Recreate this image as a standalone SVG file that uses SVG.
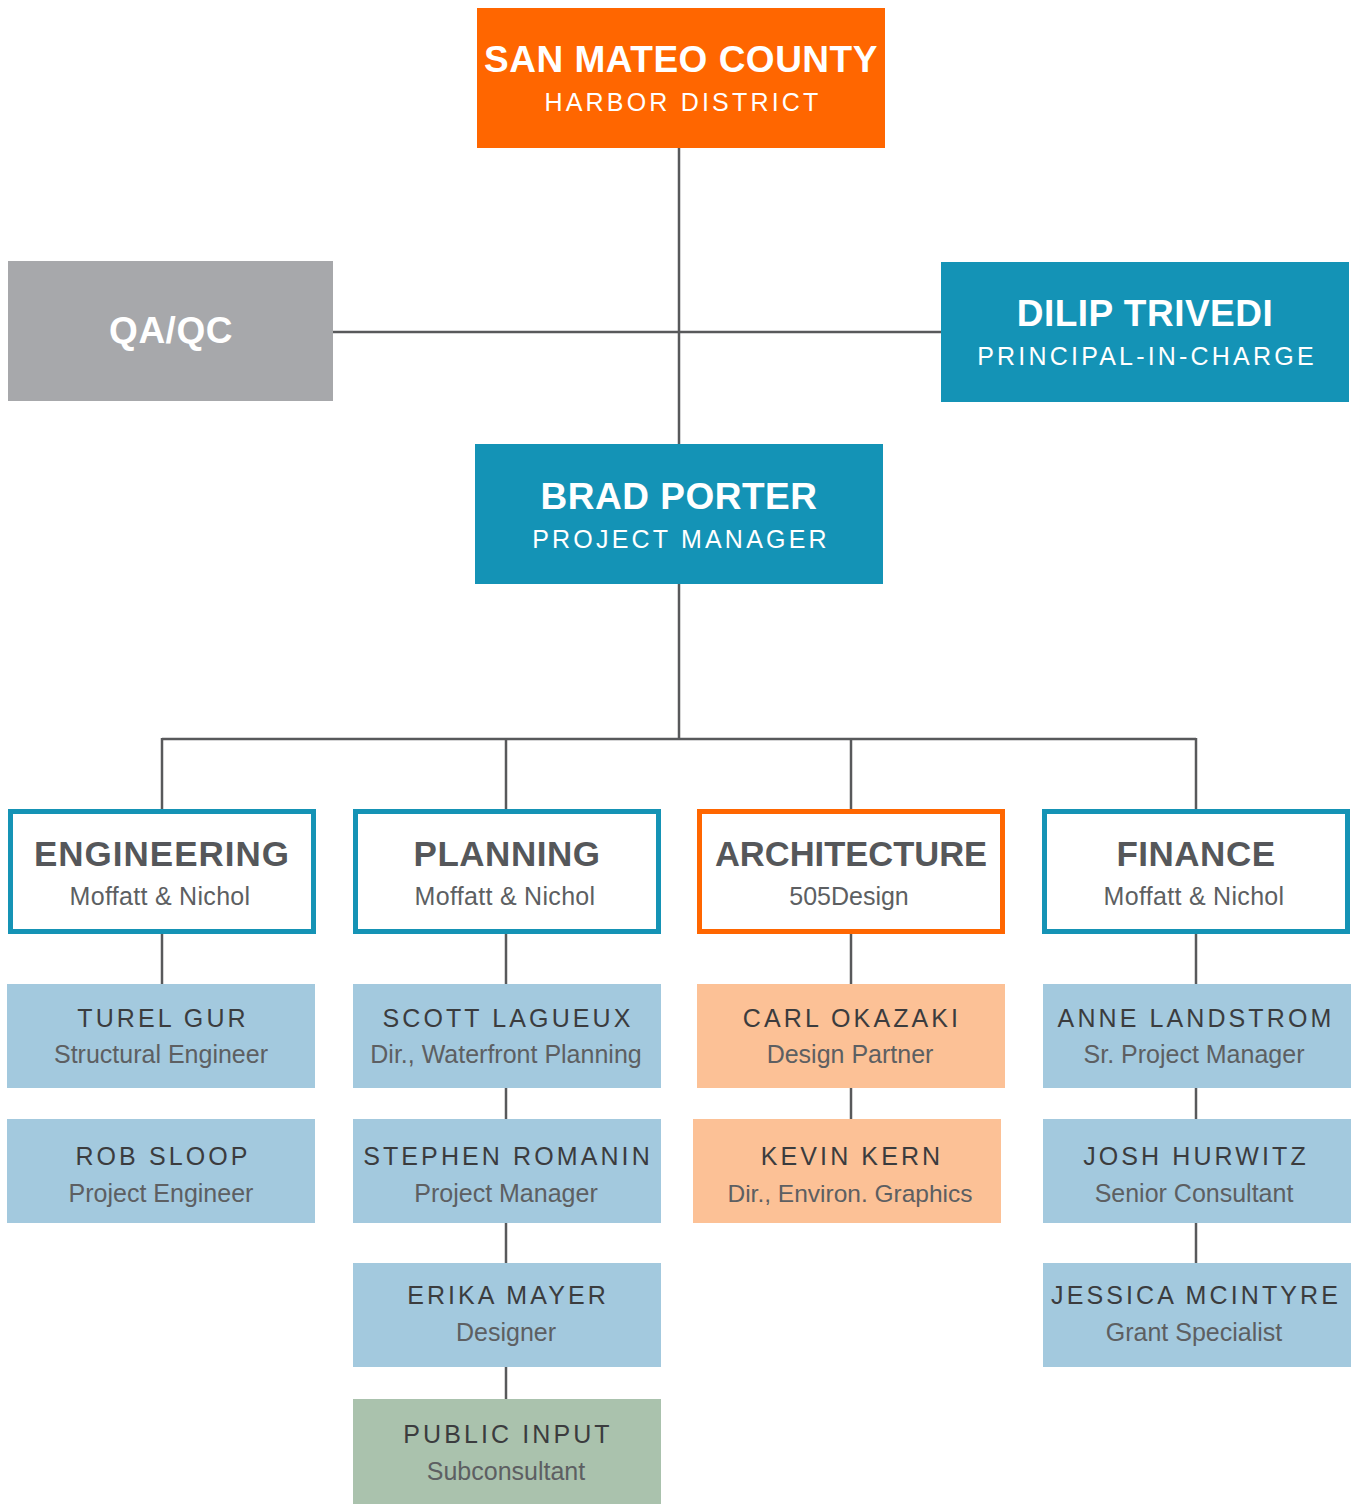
<svg xmlns="http://www.w3.org/2000/svg" width="1355" height="1510" viewBox="0 0 1355 1510">
<style>
.t{font-family:"Liberation Sans",Arial,sans-serif;text-anchor:middle}
.hb{font-weight:bold;font-size:37px;fill:#fff;letter-spacing:0.5px}
.hs{font-size:25px;fill:#fff;letter-spacing:3.2px}
.db{font-weight:bold;font-size:35px;fill:#55575a;letter-spacing:0.5px}
.ds{font-size:25px;fill:#5d5f62}
.pn{font-size:25px;fill:#3b3c3e;letter-spacing:3.1px}
.ps{font-size:25px;fill:#5d5f62}
.blue{fill:#a3c9de}
.peach{fill:#fcc196}
.sage{fill:#aac2ad}
.dept{fill:#fff;stroke-width:5}
.conn line{stroke:#58595b;stroke-width:2.5}
</style>
<g class="conn" id="connectors">
<line x1="679" y1="148" x2="679" y2="444"/>
<line x1="333" y1="332" x2="941" y2="332"/>
<line x1="679" y1="584" x2="679" y2="739"/>
<line x1="162" y1="739" x2="1196" y2="739"/>
<line x1="162" y1="738" x2="162" y2="810"/>
<line x1="506" y1="738" x2="506" y2="810"/>
<line x1="851" y1="738" x2="851" y2="810"/>
<line x1="1196" y1="738" x2="1196" y2="810"/>
<line x1="162" y1="934" x2="162" y2="984"/>
<line x1="506" y1="934" x2="506" y2="984"/>
<line x1="851" y1="934" x2="851" y2="984"/>
<line x1="1196" y1="934" x2="1196" y2="984"/>
<line x1="506" y1="1088" x2="506" y2="1119"/>
<line x1="851" y1="1088" x2="851" y2="1119"/>
<line x1="1196" y1="1088" x2="1196" y2="1119"/>
<line x1="506" y1="1223" x2="506" y2="1263"/>
<line x1="1196" y1="1223" x2="1196" y2="1263"/>
<line x1="506" y1="1367" x2="506" y2="1399"/>
</g>
<g id="san-mateo">
<rect x="477" y="8" width="408" height="140" fill="#ff6600"/>
<text class="t hb" x="681" y="72">SAN MATEO COUNTY</text>
<text class="t hs" x="683" y="111">HARBOR DISTRICT</text>
</g>
<g id="qaqc">
<rect x="8" y="261" width="325" height="140" fill="#a7a8ab"/>
<text class="t hb" x="171" y="343">QA/QC</text>
</g>
<g id="dilip">
<rect x="941" y="262" width="408" height="140" fill="#1493b6"/>
<text class="t hb" x="1145" y="326">DILIP TRIVEDI</text>
<text class="t hs" x="1147" y="365">PRINCIPAL-IN-CHARGE</text>
</g>
<g id="brad">
<rect x="475" y="444" width="408" height="140" fill="#1493b6"/>
<text class="t hb" x="679" y="509">BRAD PORTER</text>
<text class="t hs" x="681" y="548">PROJECT MANAGER</text>
</g>
<g id="engineering">
<rect class="dept" x="10.5" y="811.5" width="303" height="120" stroke="#1593b5"/>
<text class="t db" x="162" y="866" style="letter-spacing:1px">ENGINEERING</text>
<text class="t ds" x="160" y="905" style="letter-spacing:0.3px">Moffatt &amp; Nichol</text>
</g>
<g id="planning">
<rect class="dept" x="355.5" y="811.5" width="303" height="120" stroke="#1593b5"/>
<text class="t db" x="507" y="866">PLANNING</text>
<text class="t ds" x="505" y="905" style="letter-spacing:0.3px">Moffatt &amp; Nichol</text>
</g>
<g id="architecture">
<rect class="dept" x="699.5" y="811.5" width="303" height="120" stroke="#ff6600"/>
<text class="t db" x="851" y="866" style="letter-spacing:0px;font-size:34.5px">ARCHITECTURE</text>
<text class="t ds" x="849" y="905">505Design</text>
</g>
<g id="finance">
<rect class="dept" x="1044.5" y="811.5" width="303" height="120" stroke="#1593b5"/>
<text class="t db" x="1196" y="866">FINANCE</text>
<text class="t ds" x="1194" y="905" style="letter-spacing:0.3px">Moffatt &amp; Nichol</text>
</g>
<g id="turel">
<rect class="blue" x="7" y="984" width="308" height="104"/>
<text class="t pn" x="163" y="1027">TUREL GUR</text>
<text class="t ps" x="161" y="1063">Structural Engineer</text>
</g>
<g id="rob">
<rect class="blue" x="7" y="1119" width="308" height="104"/>
<text class="t pn" x="163" y="1165">ROB SLOOP</text>
<text class="t ps" x="161" y="1202">Project Engineer</text>
</g>
<g id="scott">
<rect class="blue" x="353" y="984" width="308" height="104"/>
<text class="t pn" x="508" y="1027">SCOTT LAGUEUX</text>
<text class="t ps" x="506" y="1063">Dir., Waterfront Planning</text>
</g>
<g id="stephen">
<rect class="blue" x="353" y="1119" width="308" height="104"/>
<text class="t pn" x="508" y="1165">STEPHEN ROMANIN</text>
<text class="t ps" x="506" y="1202">Project Manager</text>
</g>
<g id="erika">
<rect class="blue" x="353" y="1263" width="308" height="104"/>
<text class="t pn" x="508" y="1304">ERIKA MAYER</text>
<text class="t ps" x="506" y="1341">Designer</text>
</g>
<g id="public-input">
<rect class="sage" x="353" y="1399" width="308" height="105"/>
<text class="t pn" x="508" y="1443">PUBLIC INPUT</text>
<text class="t ps" x="506" y="1480">Subconsultant</text>
</g>
<g id="carl">
<rect class="peach" x="697" y="984" width="308" height="104"/>
<text class="t pn" x="852" y="1027">CARL OKAZAKI</text>
<text class="t ps" x="850" y="1063">Design Partner</text>
</g>
<g id="kevin">
<rect class="peach" x="693" y="1119" width="308" height="104"/>
<text class="t pn" x="852" y="1165">KEVIN KERN</text>
<text class="t ps" x="850" y="1202" style="font-size:24.5px">Dir., Environ. Graphics</text>
</g>
<g id="anne">
<rect class="blue" x="1043" y="984" width="308" height="104"/>
<text class="t pn" x="1196" y="1027">ANNE LANDSTROM</text>
<text class="t ps" x="1194" y="1063">Sr. Project Manager</text>
</g>
<g id="josh">
<rect class="blue" x="1043" y="1119" width="308" height="104"/>
<text class="t pn" x="1196" y="1165">JOSH HURWITZ</text>
<text class="t ps" x="1194" y="1202">Senior Consultant</text>
</g>
<g id="jessica">
<rect class="blue" x="1043" y="1263" width="308" height="104"/>
<text class="t pn" x="1196" y="1304">JESSICA MCINTYRE</text>
<text class="t ps" x="1194" y="1341">Grant Specialist</text>
</g>
</svg>
